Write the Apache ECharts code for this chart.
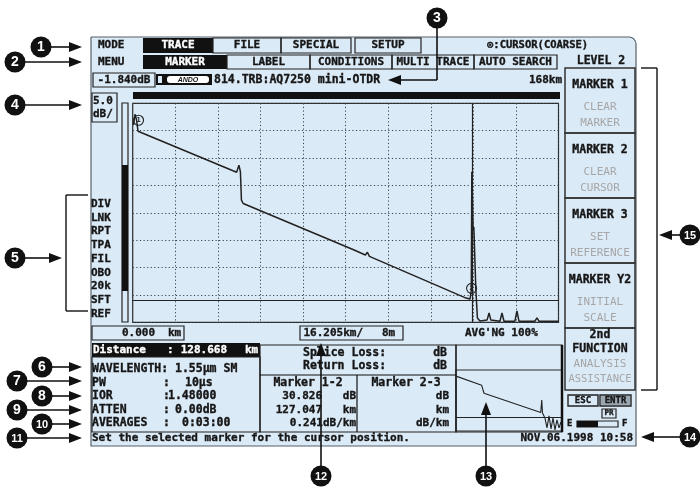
<!DOCTYPE html>
<html><head><meta charset="utf-8">
<script src="https://cdn.jsdelivr.net/npm/echarts/dist/echarts.min.js"></script>
<style>html,body{margin:0;padding:0;background:#fff}#c{width:700px;height:492px}</style>
</head><body><div id="c"></div>
<script>
// ---------- data ----------
const traceKm = [0.3, 0.9, 1.5, 2.1, 41.0, 41.9, 42.5, 42.9, 43.6, 86.9, 91.8, 92.6, 93.4, 131.1, 133.1, 133.6, 133.8, 134.2, 134.3, 134.6, 135.2, 135.4, 136.0, 137.0, 139.8, 140.6, 141.3, 144.9, 145.7, 146.5, 150.8, 151.6, 152.4, 158.7, 159.5, 160.3, 168];
const traceDb = [36.0, 38.0, 37.0, 34.9, 27.4, 28.7, 27.5, 22.3, 21.7, 13.3, 12.3, 12.8, 12.05, 4.5, 4.25, 5.9, 27.5, 27.5, 16.8, 17.4, 17.4, 5.9, 0.8, 0.24, 0.4, 1.7, 0.4, 0.2, 1.7, 0.2, 0.2, 2.1, 0.2, 0.2, 0.8, 0.2, 0.2];
const miniKm = [1.1, 40.7, 44.4, 134.3, 135.9, 137.1, 141.0, 144.2, 147.4, 150.6, 153.7, 156.9, 160.0, 163.3, 166.4];
const miniDb = [35.1, 28.2, 22.1, 7.25, 16.8, 6.9, 3.0, -4.6, 4.6, -5.3, 3.0, -6.1, 1.5, -4.6, 0];
const markerPoints = [[2.3, 36.9, '1'], [133.7, 6.2, '2']];
const cursorKm = 134.0;
const refLineDb = 3.95;
const miniRefDb = 3.6;
const rangeKm = 168;
const dbPerDiv = 5;

const modeTabs = ['TRACE', 'FILE', 'SPECIAL', 'SETUP'];
const menuTabs = ['MARKER', 'LABEL', 'CONDITIONS', 'MULTI TRACE', 'AUTO SEARCH'];
const sideFlags = ['DIV', 'LNK', 'RPT', 'TPA', 'FIL', 'OBO', '20k', 'SFT', 'REF'];
const softKeys = [['MARKER 1', 'CLEAR', 'MARKER'], ['MARKER 2', 'CLEAR', 'CURSOR'], ['MARKER 3', 'SET', 'REFERENCE'], ['MARKER Y2', 'INITIAL', 'SCALE']];
const infoLabels = ['WAVELENGTH:', 'PW', 'IOR', 'ATTEN', 'AVERAGES'];
const infoValues = ['1.55μm SM', '10μs', '1.48000', '0.00dB', '0:03:00'];
const m12 = ['30.826', '127.047', '0.241'];
const callouts = [1,2,3,4,5,6,7,8,9,10,11,12,13,14,15];

// ---------- drawing helpers (layout only) ----------
const MONO = '"DejaVu Sans Mono", monospace';
const BF = 'bold 11px ' + MONO;
const INK = '#161616';
const els = [];
function R(x,y,w,h,st){st=st||{};els.push({type:'rect',silent:true,z:st.z!=null?st.z:5,shape:{x:x,y:y,width:w,height:h,r:st.r||0},style:{fill:st.fill||'transparent',stroke:st.stroke||null,lineWidth:st.lw||1}});}
function T(x,y,s,st){st=st||{};const f=st.fill||INK;els.push({type:'text',silent:true,z:st.z!=null?st.z:10,x:x,y:y,style:{text:s,fill:f,stroke:st.thin?null:f,lineWidth:st.thin?0:0.35,font:st.font||BF,align:st.align||'left',verticalAlign:'middle'}});}
function L(x1,y1,x2,y2,st){st=st||{};els.push({type:'line',silent:true,z:st.z!=null?st.z:8,shape:{x1:x1,y1:y1,x2:x2,y2:y2},style:{stroke:st.stroke||'#111',lineWidth:st.lw||1}});}
function P(pts,st){st=st||{};els.push({type:'polygon',silent:true,z:st.z!=null?st.z:12,shape:{points:pts},style:{fill:st.fill||'#111'}});}
function C(cx,cy,r,st){st=st||{};els.push({type:'circle',silent:true,z:st.z!=null?st.z:12,shape:{cx:cx,cy:cy,r:r},style:{fill:st.fill||'#111'}});}
const GRAY = {fill:'#a6a6a6',thin:true};

// screen background
R(91,37,545,409,{fill:'#dbeaf7',stroke:'#55606a',lw:1.2,r:[0,7,0,0],z:-100});

// row 1 : MODE
T(98,45.5,'MODE');
const modeX = [[143,70],[213,68],[281,70],[355,66]];
modeTabs.forEach((s,i)=>{const b=modeX[i];
  if(i===0){R(b[0],38,b[1],15,{fill:'#111'});T(b[0]+b[1]/2,45.5,s,{fill:'#fff',align:'center'});}
  else{R(b[0],38,b[1],15,{stroke:'#222',lw:1.2});T(b[0]+b[1]/2,45.5,s,{align:'center'});}
});
T(487,45.5,'⊙:CURSOR(COARSE)',{font:'bold 10.5px '+MONO});
// row 2 : MENU
T(98,62,'MENU');
const menuX = [[143,84],[227,83],[310,82],[392,82],[474,83]];
menuTabs.forEach((s,i)=>{const b=menuX[i];
  if(i===0){R(b[0],55,b[1],14,{fill:'#111'});T(b[0]+b[1]/2,62,s,{fill:'#fff',align:'center'});}
  else{R(b[0],55,b[1],14,{stroke:'#222',lw:1.2});T(b[0]+b[1]/2,62,s,{align:'center'});}
});
T(601,61,'LEVEL 2',{align:'center',font:'bold 11.5px '+MONO});
// row 3
R(93,73,62,14,{stroke:'#222',lw:1.2});
T(124,80,'-1.840dB',{align:'center'});
R(156,74,8,11,{fill:'#111'}); R(158,76,4,7,{fill:'#dbeaf7'});
R(164,74,48,11,{fill:'#111'}); R(167,76,42,7,{fill:'#fff',r:3});
T(188,79.7,'ANDO',{align:'center',thin:true,font:'italic bold 7px "Liberation Sans"'});
T(214,80,'814.TRB:AQ7250 mini-OTDR',{font:'bold 11.5px '+MONO});
T(562,80,'168km',{align:'right'});

// top scroll bar, scale box, level bar
R(133,92,427,7,{fill:'#111'});
R(92,93,25,29,{stroke:'#222',lw:1.2});
T(93,101,'5.0'); T(93,114,'dB/');
R(122,103,6,219,{stroke:'#222',lw:1.2});
R(122,165,6,126,{fill:'#111'});
sideFlags.forEach((s,i)=>T(91,204+i*13.75,s));

// under the plot
R(92,326,92,14,{stroke:'#222',lw:1.2});
T(155,333,'0.000',{align:'right'}); T(168,333,'km');
R(300,326,103,14,{stroke:'#222',lw:1.2});
T(363,333,'16.205km/',{align:'right'}); T(382,333,'8m');
T(465,333,"AVG'NG 100%");

// distance + info box
R(92,343,168,14,{fill:'#111'});
T(93,350,'Distance',{fill:'#fff'}); T(167,350,':',{fill:'#fff'});
T(227,350,'128.668',{fill:'#fff',align:'right'}); T(245,350,'km',{fill:'#fff'});
R(92,357,168,75,{stroke:'#222',lw:1.2});
const infoValX = [175,185,168,175,182];
infoLabels.forEach((s,i)=>{const y=369.5+i*13.5;T(92,y,s,{font:'bold 11.5px '+MONO});
  if(i>0)T(163,y,':',{font:'bold 11.5px '+MONO});
  T(infoValX[i],y,infoValues[i],{font:'bold 11.5px '+MONO});});

// middle loss / marker box
R(260,345,196,87,{stroke:'#222',lw:1.2});
L(260,375,456,375,{lw:1.2}); L(357,375,357,432,{lw:1.2});
T(303,353,'Splice Loss:',{font:'bold 11.5px '+MONO}); T(447,353,'dB',{align:'right',font:'bold 11.5px '+MONO});
T(303,366,'Return Loss:',{font:'bold 11.5px '+MONO}); T(447,366,'dB',{align:'right',font:'bold 11.5px '+MONO});
T(308,383,'Marker 1-2',{align:'center',font:'bold 11.5px '+MONO});
T(406,383,'Marker 2-3',{align:'center',font:'bold 11.5px '+MONO});
T(322,396.5,m12[0],{align:'right'}); T(356,396.5,'dB',{align:'right'});
T(322,410,m12[1],{align:'right'}); T(356,410,'km',{align:'right'});
T(356,423.5,m12[2]+'dB/km',{align:'right'});
T(449,396.5,'dB',{align:'right'}); T(449,410,'km',{align:'right'}); T(449,423.5,'dB/km',{align:'right'});

// mini box
R(456,345,106,87,{stroke:'#222',lw:1.2});
L(562,345,562,432,{lw:2.5});

// soft keys
const skY = [68,133,198,263];
softKeys.forEach((k,i)=>{const y=skY[i];
  R(565,y,70,65,{stroke:'#333',lw:1.5});
  T(600,y+17,k[0],{align:'center',font:'bold 11.5px '+MONO});
  T(600,y+39,k[1],Object.assign({align:'center',font:'11px '+MONO},GRAY));
  T(600,y+55,k[2],Object.assign({align:'center',font:'11px '+MONO},GRAY));});
R(565,328,70,62,{stroke:'#333',lw:1.5});
T(600,335,'2nd',{align:'center',font:'bold 11.5px '+MONO});
T(600,349,'FUNCTION',{align:'center',font:'bold 11.5px '+MONO});
T(600,364,'ANALYSIS',Object.assign({align:'center',font:'11px '+MONO},GRAY));
T(600,379,'ASSISTANCE',Object.assign({align:'center',font:'10.5px '+MONO},GRAY));
R(568,395,30,11,{stroke:'#222',lw:1.4}); T(583,400.5,'ESC',{align:'center',font:'bold 9px '+MONO});
R(600,395,31,11,{stroke:'#222',lw:1.4}); R(601,396,29,9,{fill:'#9aa6b0'}); T(615.5,400.5,'ENTR',{align:'center',font:'bold 9px '+MONO});
R(602,409,14,9,{stroke:'#222',lw:1.2}); T(609,413.5,'PR',{align:'center',font:'bold 7.5px '+MONO});
T(567,424,'E',{font:'bold 9px '+MONO});
R(577,421,41,6,{stroke:'#222',lw:1.2}); R(577,421,21,6,{fill:'#111'});
T(622,424,'F',{font:'bold 9px '+MONO});

// status line
T(92,438,'Set the selected marker for the cursor position.');
T(633,438,'NOV.06.1998 10:58',{align:'right'});

// ---------- callouts ----------
function badge(cx,cy,n){C(cx,cy,10.5);T(cx,cy+0.5,String(n),{fill:'#fff',thin:true,align:'center',z:13,font:(n>9?'bold 11px ':'bold 14px ')+'"Liberation Sans"'});}
function arrowR(x1,y,x2){L(x1,y,x2-10,y,{lw:1.6});P([[x2,y],[x2-13,y-5],[x2-13,y+5]]);}
function arrowL(x1,y,x2){L(x1,y,x2+10,y,{lw:1.6});P([[x2,y],[x2+13,y-5],[x2+13,y+5]]);}
function arrowU(x,y1,y2){L(x,y1,x,y2+10,{lw:1.6});P([[x,y2],[x-5,y2+13],[x+5,y2+13]]);}
const leftCallouts = {1:[41,47],2:[15,62],4:[15,105],6:[42,367],7:[17,381],8:[42,396],9:[17,410],10:[42,424],11:[17,438]};
callouts.forEach(n=>{
  if(leftCallouts[n]){const p=leftCallouts[n];badge(p[0],p[1],n);arrowR(p[0]+10,p[1],82);}
});
badge(437,18,3); L(437,28,437,80,{lw:1.6}); arrowL(437,80,388);
badge(15,258,5); arrowR(25,258,62);
L(88,195,66,195,{lw:1.4}); L(66,195,66,311,{lw:1.4}); L(66,311,88,311,{lw:1.4});
badge(321,476,12); arrowU(321,466,343);
badge(486,476,13); arrowU(486,466,402);
badge(690,437,14); arrowL(680,437,641);
badge(690,235,15); arrowL(680,235,659);
L(641,68,657,68,{lw:1.4}); L(657,68,657,390,{lw:1.4}); L(657,390,641,390,{lw:1.4});

// ---------- chart ----------
const chart = echarts.init(document.getElementById('c'), null, {renderer:'canvas'});
const noAxis = {axisLine:{show:false},axisTick:{show:false},axisLabel:{show:false}};
const dotted = {show:true,lineStyle:{type:[1.2,2.4],color:'#3c444b',width:1}};
chart.setOption({
  animation:false,
  backgroundColor:'#ffffff',
  grid:[
    {left:132.7,top:103.3,width:425.8,height:219,show:true,borderColor:'#2a2a2a',borderWidth:1.2,backgroundColor:'transparent'},
    {left:456,top:370,width:106,height:61,show:true,borderColor:'#2a2a2a',borderWidth:1.2,backgroundColor:'transparent'}
  ],
  xAxis:[
    Object.assign({gridIndex:0,type:'value',min:0,max:rangeKm,interval:rangeKm/10,splitLine:dotted},noAxis),
    Object.assign({gridIndex:1,type:'value',min:0,max:rangeKm,splitLine:{show:false}},noAxis)
  ],
  yAxis:[
    Object.assign({gridIndex:0,type:'value',min:0,max:dbPerDiv*8,interval:dbPerDiv,splitLine:dotted},noAxis),
    Object.assign({gridIndex:1,type:'value',min:-7,max:40,splitLine:{show:false}},noAxis)
  ],
  graphic:{elements:els},
  series:[
    {type:'line',xAxisIndex:0,yAxisIndex:0,symbol:'none',silent:true,
     data:traceKm.map((k,i)=>[k,traceDb[i]]),
     lineStyle:{color:'#222',width:1.5},
     markLine:{silent:true,symbol:'none',label:{show:false},lineStyle:{type:'solid',color:'#222',width:1.2},
       data:[{xAxis:cursorKm},{yAxis:refLineDb}]},
     markPoint:{silent:true,symbol:'circle',symbolSize:10,
       itemStyle:{color:'rgba(0,0,0,0)',borderColor:'#222',borderWidth:1.1},
       label:{show:true,color:'#222',fontSize:7.5,fontWeight:'bold',formatter:p=>p.name},
       data:markerPoints.map(m=>({name:m[2],coord:[m[0],m[1]]}))}
    },
    {type:'line',xAxisIndex:1,yAxisIndex:1,symbol:'none',silent:true,
     data:miniKm.map((k,i)=>[k,miniDb[i]]),
     lineStyle:{color:'#222',width:1.1},
     markLine:{silent:true,symbol:'none',label:{show:false},lineStyle:{type:'solid',color:'#222',width:1},
       data:[{yAxis:miniRefDb}]}
    }
  ]
});
</script></body></html>
